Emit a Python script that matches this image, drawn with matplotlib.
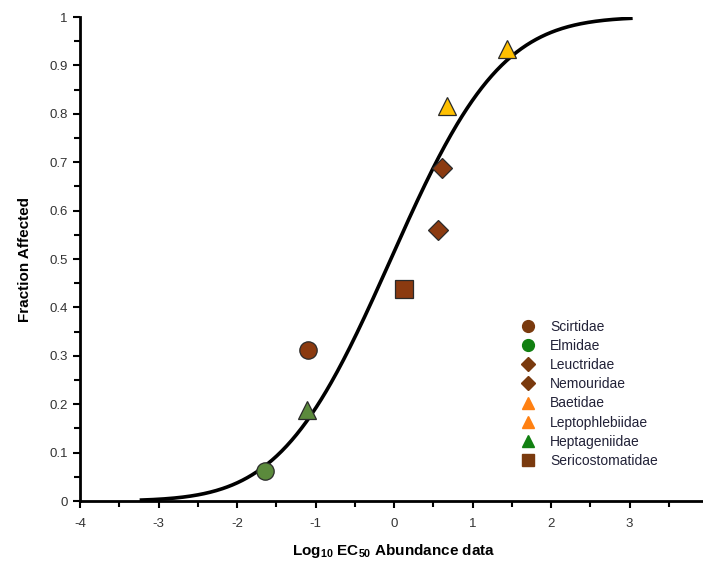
import numpy as np
import matplotlib
matplotlib.use("Agg")
import matplotlib.pyplot as plt
from matplotlib.lines import Line2D
from matplotlib.ticker import MultipleLocator
from math import erf, sqrt

plt.rcParams['font.family'] = ['Liberation Sans', 'DejaVu Sans']
plt.rcParams['mathtext.fontset'] = 'custom'
plt.rcParams['mathtext.rm'] = 'Liberation Sans'
plt.rcParams['mathtext.bf'] = 'Liberation Sans:bold'

# Data
families = ['Scirtidae', 'Elmidae', 'Leuctridae', 'Nemouridae', 'Baetidae',
            'Leptophlebiidae', 'Heptageniidae', 'Sericostomatidae']
log_ec50 = [-1.10, -1.64, 0.61, 0.56, 0.675, 1.44, -1.11, 0.13]
fraction = [0.313, 0.062, 0.689, 0.559, 0.816, 0.934, 0.188, 0.439]
markers = ['o', 'o', 'D', 'D', '^', '^', '^', 's']
point_colors = ['#8B3A10', '#5B8A3C', '#8B3A10', '#8B3A10', '#FFC000',
                '#FFC000', '#5B8A3C', '#8B3A10']
legend_colors = ['#7A3A0E', '#118011', '#7A3A0E', '#7A3A0E', '#FF8011',
                 '#FF8011', '#118011', '#7A3A0E']
marker_sizes = [12.5, 12.5, 10, 10, 13, 13, 13, 12.5]

# Fitted species sensitivity distribution (normal CDF)
fit_mu = -0.04
fit_sigma = 1.1
fit_range = (-3.24, 3.04)

fig = plt.figure(figsize=(7.03, 5.68), dpi=100)
ax = fig.add_axes([80 / 703, 1 - 501 / 568, (708 - 80) / 703, (501 - 17) / 568])

xs = np.linspace(fit_range[0], fit_range[1], 400)
ys = np.array([0.5 * (1 + erf((x - fit_mu) / (fit_sigma * sqrt(2)))) for x in xs])
ax.plot(xs, ys, color='black', lw=2.6, zorder=2, solid_capstyle='butt')

for x, y, m, c, s in zip(log_ec50, fraction, markers, point_colors, marker_sizes):
    ax.plot([x], [y], linestyle='none', marker=m, markersize=s,
            markerfacecolor=c, markeredgecolor='#2a2a2a', markeredgewidth=0.9, zorder=3)

ax.set_xlim(-4, 4)
ax.set_ylim(0, 1)
ax.xaxis.set_minor_locator(MultipleLocator(0.5))
ax.yaxis.set_minor_locator(MultipleLocator(0.05))
ax.set_yticks(np.arange(0, 1.01, 0.1))
ax.set_yticklabels(['0', '0.1', '0.2', '0.3', '0.4', '0.5', '0.6', '0.7', '0.8', '0.9', '1'])
ax.set_xticks(np.arange(-4, 4.01, 1))
ax.set_xticklabels(['-4', '-3', '-2', '-1', '0', '1', '2', '3', '4'])

for side in ['top', 'right']:
    ax.spines[side].set_visible(False)
for side in ['left', 'bottom']:
    ax.spines[side].set_linewidth(2)
ax.tick_params(axis='both', which='major', direction='out', length=5, width=1.5,
               labelsize=9.5, labelcolor='#333333')
ax.tick_params(axis='x', which='major', pad=7)
ax.tick_params(axis='y', which='major', pad=4)
ax.tick_params(axis='both', which='minor', direction='out', length=4, width=1.5)

ax.set_xlabel(r'Log$_\mathbf{10}$ EC$_\mathbf{50}$ Abundance data', fontsize=11,
              fontweight='bold', labelpad=9)
ax.set_ylabel('Fraction Affected', fontsize=11, fontweight='bold', labelpad=12)

handles = [Line2D([], [], linestyle='none', marker=m, markersize=8.5 if m != 'D' else 7,
                  markerfacecolor=c, markeredgecolor=c)
           for m, c in zip(markers, legend_colors)]
ax.legend(handles, families, loc='upper left', bbox_to_anchor=(0.68, 0.40),
          frameon=False, fontsize=10, handletextpad=1.0, labelspacing=0.37,
          handlelength=1.2, labelcolor='#222238')

fig.savefig('out.png', dpi=100)
